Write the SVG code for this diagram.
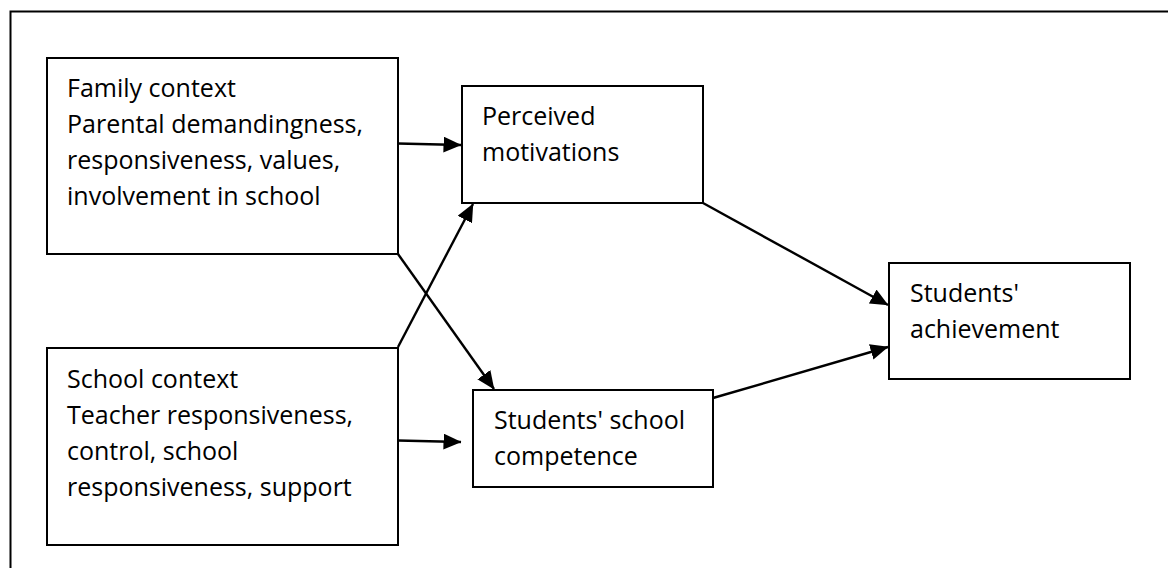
<svg xmlns="http://www.w3.org/2000/svg" width="1168" height="568" viewBox="0 0 1168 568">
  <style>
    .box { fill: #ffffff; stroke: #000000; stroke-width: 2; }
    .lbl { font-family: "Open Sans", "Liberation Sans", sans-serif; font-size: 25px; fill: #000000; }
    .edge { fill: none; stroke: #000000; stroke-width: 2.4; marker-end: url(#arrow); }
  </style>
  <defs>
    <marker id="arrow" markerUnits="userSpaceOnUse" viewBox="0 0 18 16" markerWidth="18" markerHeight="16" refX="17.5" refY="8" orient="auto">
      <path d="M0,0 L18,8 L0,16 z" fill="#000000"/>
    </marker>
  </defs>
  <rect width="1168" height="568" fill="#ffffff"/>
  <!-- outer frame (open on right and bottom) -->
  <path d="M10.5,568 L10.5,11.5 L1168,11.5" fill="none" stroke="#000000" stroke-width="2"/>

  <g id="family-context">
    <rect class="box" x="47" y="58" width="351" height="196"/>
    <text class="lbl" x="67" y="97">Family context</text>
    <text class="lbl" x="67" y="133">Parental demandingness,</text>
    <text class="lbl" x="67" y="169">responsiveness, values,</text>
    <text class="lbl" x="67" y="205">involvement in school</text>
  </g>

  <g id="school-context">
    <rect class="box" x="47" y="348" width="351" height="197"/>
    <text class="lbl" x="67" y="388">School context</text>
    <text class="lbl" x="67" y="424">Teacher responsiveness,</text>
    <text class="lbl" x="67" y="460">control, school</text>
    <text class="lbl" x="67" y="496">responsiveness, support</text>
  </g>

  <g id="perceived-motivations">
    <rect class="box" x="462" y="86" width="241" height="117"/>
    <text class="lbl" x="482" y="125">Perceived</text>
    <text class="lbl" x="482" y="161">motivations</text>
  </g>

  <g id="school-competence">
    <rect class="box" x="473" y="390" width="240" height="97"/>
    <text class="lbl" x="494" y="429">Students' school</text>
    <text class="lbl" x="494" y="465">competence</text>
  </g>

  <g id="achievement">
    <rect class="box" x="889" y="263" width="241" height="116"/>
    <text class="lbl" x="910" y="302">Students'</text>
    <text class="lbl" x="910" y="338">achievement</text>
  </g>

  <g id="connectors">
    <line class="edge" x1="398" y1="143.5" x2="461" y2="145"/>
    <line class="edge" x1="398" y1="254" x2="494" y2="389"/>
    <line class="edge" x1="398" y1="347" x2="473" y2="204"/>
    <line class="edge" x1="398" y1="440.5" x2="461" y2="442"/>
    <line class="edge" x1="703" y1="203" x2="888" y2="305"/>
    <line class="edge" x1="713" y1="398" x2="888" y2="347"/>
  </g>
</svg>
